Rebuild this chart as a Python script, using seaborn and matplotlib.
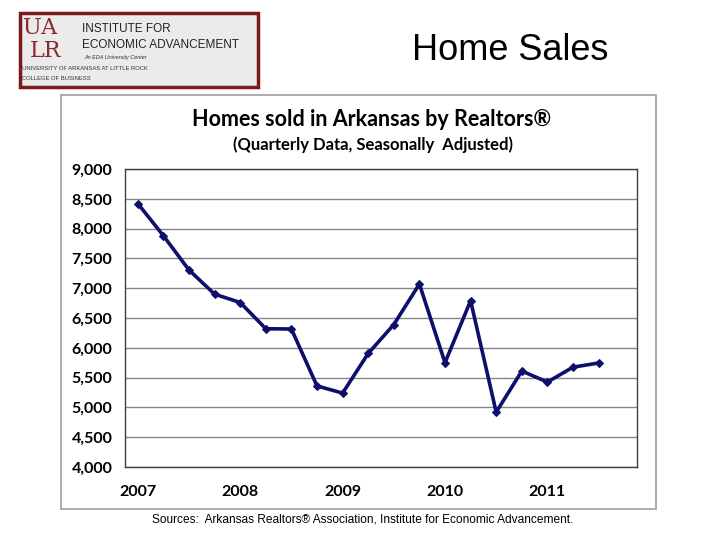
import numpy as np
import pandas as pd
import matplotlib
matplotlib.use('Agg')
import matplotlib.pyplot as plt
from matplotlib.patches import Rectangle
from matplotlib.ticker import FixedLocator, FuncFormatter
import seaborn as sns

# quarterly axis categories (last quarter has no data yet)
quarters = ['2007Q1', '2007Q2', '2007Q3', '2007Q4',
            '2008Q1', '2008Q2', '2008Q3', '2008Q4',
            '2009Q1', '2009Q2', '2009Q3', '2009Q4',
            '2010Q1', '2010Q2', '2010Q3', '2010Q4',
            '2011Q1', '2011Q2', '2011Q3', '2011Q4']
# homes sold, seasonally adjusted
sales = [8420, 7880, 7305, 6900, 6760, 6320, 6315, 5360, 5240, 5905,
         6390, 7070, 5750, 6790, 4920, 5610, 5425, 5675, 5745]
year_labels = ['2007', '2008', '2009', '2010', '2011']
y_ticks = [4000, 4500, 5000, 5500, 6000, 6500, 7000, 7500, 8000, 8500, 9000]

sns.set_style('white')
plt.rcParams['font.family'] = ['Lato', 'DejaVu Sans']
plt.rcParams['text.color'] = 'black'
plt.rcParams['xtick.color'] = 'black'
plt.rcParams['ytick.color'] = 'black'

df = pd.DataFrame({'quarter': quarters[:len(sales)], 'sales': sales})
df['pos'] = [quarters.index(q) for q in df['quarter']]

fig = plt.figure(figsize=(7.2, 5.4), dpi=100)
fig.patch.set_facecolor('white')
W, H = 720, 540


def fx(px):
    return px / W


def fy(py):
    return 1 - py / H


# outer chart frame
fig.patches.append(Rectangle((fx(61), fy(509)), fx(656) - fx(61), fy(95) - fy(509),
                             transform=fig.transFigure, fill=False,
                             ec='#a6a6a6', lw=1.3))

ax = fig.add_axes([fx(125), fy(467), fx(637) - fx(125), fy(169) - fy(467)])
sns.lineplot(data=df, x='pos', y='sales', ax=ax, color='#0e0e6c', lw=2.6,
             marker='D', markersize=4.5, markeredgecolor='#0e0e6c')

ax.set_xlim(-0.5, len(quarters) - 0.5)
ax.set_ylim(y_ticks[0], y_ticks[-1])
ax.set_yticks(y_ticks)
ax.yaxis.set_major_formatter(FuncFormatter(lambda v, p: f'{int(v):,}'))
ax.grid(axis='y', color='#868686', lw=1)
ax.set_axisbelow(True)

year_pos = [quarters.index(y + 'Q1') for y in year_labels]
ax.set_xticks(year_pos)
ax.set_xticklabels(year_labels)
ax.xaxis.set_minor_locator(FixedLocator(np.arange(-0.5, len(quarters), 1.0)))
ax.tick_params(axis='x', which='major', length=0, pad=13)
ax.tick_params(axis='x', which='minor', length=5, width=1, color='#404040', direction='out')
ax.tick_params(axis='y', length=5, width=1, color='#404040', direction='out', pad=4)
for lab in ax.get_xticklabels() + ax.get_yticklabels():
    lab.set_fontweight('bold')
    lab.set_fontsize(11.5)
for s in ax.spines.values():
    s.set_color('#404040')
    s.set_linewidth(1)
ax.set_xlabel('')
ax.set_ylabel('')

fig.text(fx(372), fy(119), 'Homes sold in Arkansas by Realtors\u00ae', ha='center', va='center',
         fontsize=15.5, fontweight='bold')
fig.text(fx(373), fy(145), '(Quarterly Data, Seasonally  Adjusted)', ha='center', va='center',
         fontsize=12, fontweight='bold')

# slide title and footer
fig.text(fx(510), fy(50), 'Home Sales', ha='center', va='center', fontsize=26,
         family='Liberation Sans')
fig.text(fx(363), fy(520), 'Sources:  Arkansas Realtors\u00ae Association, Institute for Economic Advancement.',
         ha='center', va='center', fontsize=8.6, family='Liberation Sans')

# logo block
fig.patches.append(Rectangle((fx(20), fy(87)), fx(258) - fx(20), fy(13) - fy(87),
                             transform=fig.transFigure, fc='#ebebeb',
                             ec='#7a1a1a', lw=2.5))
fig.text(fx(23), fy(28), 'UA', ha='left', va='center', fontsize=16, color='#8a2a2a',
         family='DejaVu Serif')
fig.text(fx(30), fy(51), 'LR', ha='left', va='center', fontsize=16, color='#8a2a2a',
         family='DejaVu Serif')
fig.text(fx(82), fy(29), 'INSTITUTE FOR', ha='left', va='center', fontsize=8.5,
         color='#222222', family='Liberation Sans')
fig.text(fx(82), fy(45), 'ECONOMIC ADVANCEMENT', ha='left', va='center', fontsize=8.5,
         color='#222222', family='Liberation Sans')
fig.text(fx(84), fy(57), 'An EDA University Center', ha='left', va='center', fontsize=4,
         color='#333333', family='Liberation Sans', style='italic')
fig.text(fx(22), fy(69), 'UNIVERSITY OF ARKANSAS AT LITTLE ROCK', ha='left', va='center',
         fontsize=4.2, color='#333333', family='Liberation Sans')
fig.text(fx(22), fy(79), 'COLLEGE OF BUSINESS', ha='left', va='center', fontsize=4.2,
         color='#333333', family='Liberation Sans')

fig.savefig('out.png', dpi=100)
